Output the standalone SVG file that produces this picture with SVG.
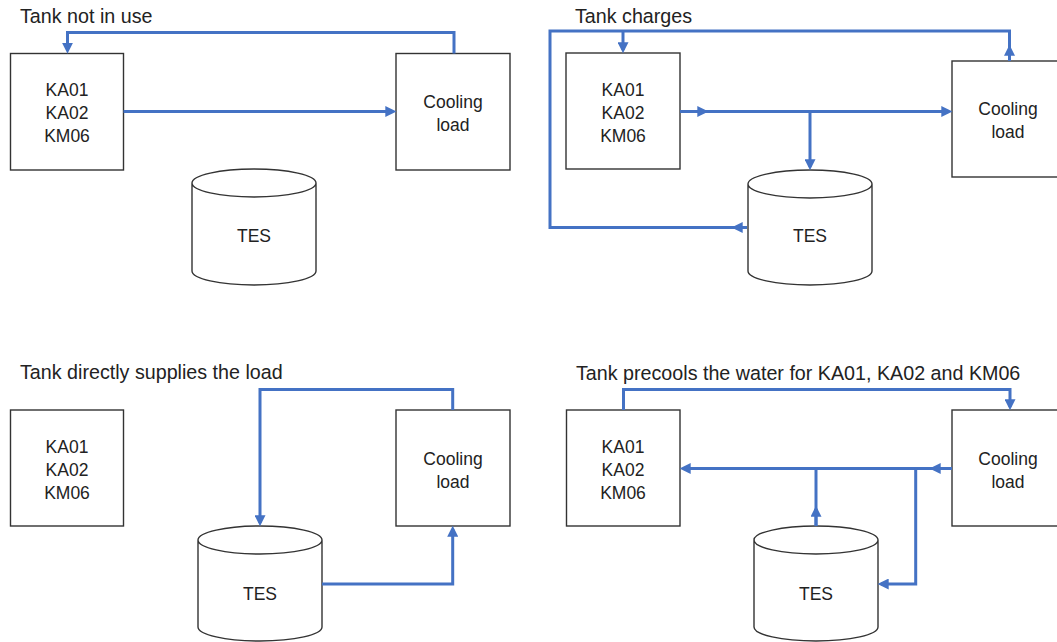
<svg xmlns="http://www.w3.org/2000/svg" width="1057" height="642" viewBox="0 0 1057 642">
<style>
.box{fill:#fff;stroke:#333;stroke-width:1.4}
.can{fill:#fff;stroke:#333;stroke-width:1.4}
.t{font-family:"Liberation Sans",Arial,sans-serif;font-size:17.5px;fill:#222;text-anchor:middle}
.title{font-family:"Liberation Sans",Arial,sans-serif;font-size:19.7px;fill:#222}
.c{fill:none;stroke:#4472C4;stroke-width:3}
.a{fill:none;stroke:#4472C4;stroke-width:3;marker-end:url(#ah)}
</style>
<defs>
<marker id="ah" viewBox="0 0 10 10" refX="7" refY="5" markerWidth="11" markerHeight="11" markerUnits="userSpaceOnUse" orient="auto">
<path d="M0,0 L10,5 L0,10 Z" fill="#4472C4"/>
</marker>
</defs>
<rect width="1057" height="642" fill="#fff"/>

<!-- Titles -->
<text class="title" x="20" y="22.5">Tank not in use</text>
<text class="title" x="575" y="23">Tank charges</text>
<text class="title" x="20" y="379">Tank directly supplies the load</text>
<text class="title" x="576" y="379.5">Tank precools the water for KA01, KA02 and KM06</text>

<!-- Quadrant 1 -->
<g id="q1-chillers">
<rect class="box" x="10.5" y="53.5" width="113" height="116.5"/>
<text class="t" x="67" y="96">KA01</text>
<text class="t" x="67" y="119">KA02</text>
<text class="t" x="67" y="142">KM06</text>
</g>
<g id="q1-load">
<rect class="box" x="396" y="53.5" width="114" height="116.5"/>
<text class="t" x="453" y="108">Cooling</text>
<text class="t" x="453" y="131">load</text>
</g>
<g id="q1-tes">
<path class="can" d="M192,183 A62,14 0 0 1 316,183 A62,14 0 0 1 192,183 Z M192,183 V271 A62,14 0 0 0 316,271 V183"/>
<text class="t" x="254" y="242">TES</text>
</g>

<!-- Quadrant 2 -->
<g id="q2-chillers">
<rect class="box" x="566" y="53" width="114" height="116"/>
<text class="t" x="623" y="95.5">KA01</text>
<text class="t" x="623" y="118.5">KA02</text>
<text class="t" x="623" y="141.5">KM06</text>
</g>
<g id="q2-load">
<rect class="box" x="952" y="61" width="114" height="116"/>
<text class="t" x="1008" y="115">Cooling</text>
<text class="t" x="1008" y="138">load</text>
</g>
<g id="q2-tes">
<path class="can" d="M748,184 A62,14 0 0 1 872,184 A62,14 0 0 1 748,184 Z M748,184 V271 A62,14 0 0 0 872,271 V184"/>
<text class="t" x="810" y="242">TES</text>
</g>

<!-- Quadrant 3 -->
<g id="q3-chillers">
<rect class="box" x="10.5" y="410" width="113" height="116"/>
<text class="t" x="67" y="453">KA01</text>
<text class="t" x="67" y="476">KA02</text>
<text class="t" x="67" y="499">KM06</text>
</g>
<g id="q3-load">
<rect class="box" x="396" y="410" width="114" height="116"/>
<text class="t" x="453" y="464.5">Cooling</text>
<text class="t" x="453" y="487.5">load</text>
</g>
<g id="q3-tes">
<path class="can" d="M198,540 A62,14 0 0 1 322,540 A62,14 0 0 1 198,540 Z M198,540 V627 A62,14 0 0 0 322,627 V540"/>
<text class="t" x="260" y="599.5">TES</text>
</g>

<!-- Quadrant 4 -->
<g id="q4-chillers">
<rect class="box" x="566.5" y="410" width="113.5" height="116"/>
<text class="t" x="623" y="453">KA01</text>
<text class="t" x="623" y="476">KA02</text>
<text class="t" x="623" y="499">KM06</text>
</g>
<g id="q4-load">
<rect class="box" x="952" y="410" width="114" height="116"/>
<text class="t" x="1008" y="464.5">Cooling</text>
<text class="t" x="1008" y="487.5">load</text>
</g>
<g id="q4-tes">
<path class="can" d="M754,540 A62,14 0 0 1 878,540 A62,14 0 0 1 754,540 Z M754,540 V627 A62,14 0 0 0 878,627 V540"/>
<text class="t" x="816" y="599.5">TES</text>
</g>

<!-- Connectors -->
<g id="connectors">
<path class="a" d="M454,53.5 V32.5 H67.5 V50.5"/>
<path class="a" d="M123.5,111.5 H393"/>

<path class="c" d="M747,227.5 H550 V31 H1009.5 V61"/>
<path class="a" d="M747,227.5 H735"/>
<path class="a" d="M623,31 V50"/>
<path class="a" d="M1009.5,61 V48"/>
<path class="a" d="M680,111.5 H949"/>
<path class="a" d="M680,111.5 H705"/>
<path class="a" d="M810,111.5 V167"/>

<path class="a" d="M452.7,410 V389.5 H260 V523"/>
<path class="a" d="M322,584 H452.7 V529"/>

<path class="a" d="M623.5,410 V389.5 H1010 V407"/>
<path class="a" d="M952,468.5 H683"/>
<path class="a" d="M952,468.5 H933"/>
<path class="a" d="M915.7,468.5 V584 H881"/>
<path class="c" d="M816,526 V468.5"/>
<path class="a" d="M816,526 V509"/>
</g>
</svg>
